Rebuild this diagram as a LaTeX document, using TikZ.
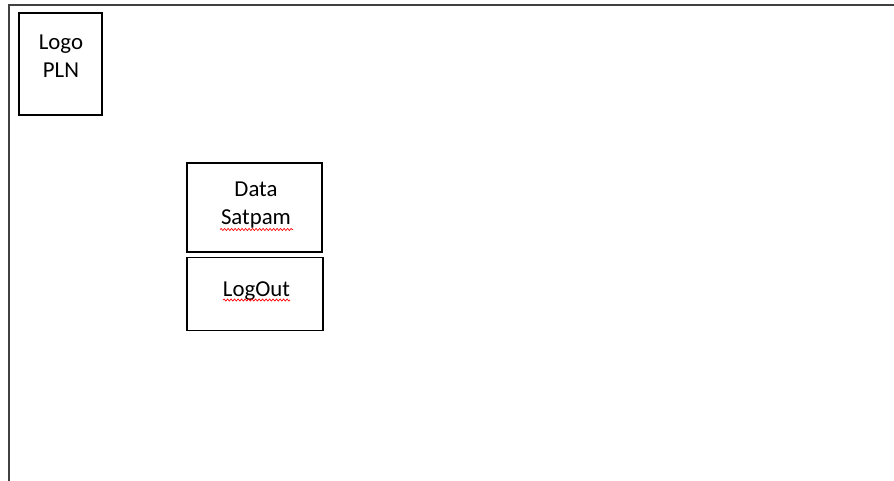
\documentclass[tikz,border=0pt]{standalone}
\usepackage{fontspec}
\setmainfont{Carlito}
\usetikzlibrary{positioning}
\usetikzlibrary{decorations.pathmorphing}
\tikzset{every picture/.style={line width=1.2pt},squiggle/.style={red,line width=0.7pt,decorate,decoration={snake,segment length=3.5pt,amplitude=1pt}}}

\begin{document}
\begin{tikzpicture}[x=1pt,y=-1pt,font=\fontsize{22.8}{28}\selectfont]
\useasboundingbox (0,0) rectangle (894,481);
\draw[line width=2pt,black!75] (9,481) -- (9,5) -- (894,5);

\node (logo) at (60.5,64) [minimum width=83pt, minimum height=102pt, draw] {};
\node (logotxt) at (61,78) [anchor=base, align=center] {Logo\\PLN};

\node (satpam) at (254.5,207.5) [minimum width=135pt, minimum height=89pt, draw] {};
\node (satpamtxt) at (256,225) [anchor=base, align=center] {Data\\Satpam};

\node (logout) [below right=4pt and 0pt of satpam.south west, minimum width=136pt, minimum height=73pt, draw] {};
\node (logouttxt) at (256.5,296) [anchor=base] {LogOut};

\draw[squiggle] (220,229.5) -- (293,229.5);
\draw[squiggle] (223,300) -- (290,300);
\end{tikzpicture}
\end{document}
